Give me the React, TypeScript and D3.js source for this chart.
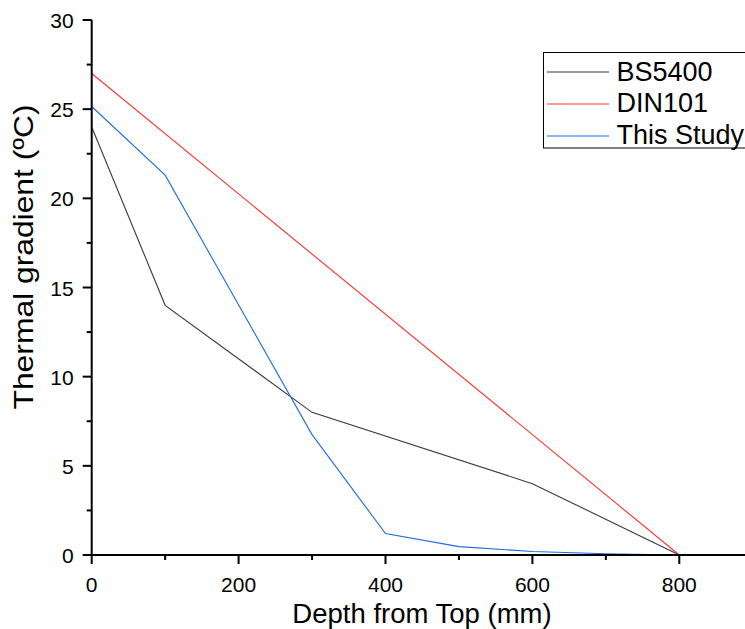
import React from "react";
import * as d3 from "d3";

const bsX = [0, 100, 300, 600, 800];
const bsY = [24, 14, 8, 4, 0];
const dinX = [0, 800];
const dinY = [27, 0];
const studyX = [0, 100, 300, 400, 500, 600, 700, 800];
const studyY = [25.15, 21.3, 6.75, 1.2, 0.47, 0.2, 0.07, 0];
const seriesNames = ["BS5400", "DIN101", "This Study"];
const seriesColors = ["#3a3a3a", "#ff3030", "#1f6ae6"];
const xTicks = [0, 200, 400, 600, 800];
const yTicks = [0, 5, 10, 15, 20, 25, 30];

const W = 745;
const H = 629;
const FONT = "Liberation Sans, Arial, sans-serif";

export default function App() {
  const x = d3.scaleLinear().domain([0, 800]).range([91.7, 679.3]);
  const y = d3.scaleLinear().domain([0, 30]).range([555, 20]);
  const xEnd = 760;

  const series = [
    { xs: bsX, ys: bsY },
    { xs: dinX, ys: dinY },
    { xs: studyX, ys: studyY },
  ];
  const line = d3
    .line<[number, number]>()
    .x((d) => x(d[0]))
    .y((d) => y(d[1]));

  const xMinor = d3.range(100, 900, 200);
  const yMinor = d3.range(2.5, 30, 5);

  return (
    <svg
      width={W}
      height={H}
      style={{ position: "fixed", left: 0, top: 0, background: "#fff" }}
      fontFamily={FONT}
    >
      {series.map((s, i) => (
        <path
          key={i}
          d={line(s.xs.map((v, j) => [v, s.ys[j]] as [number, number])) || ""}
          fill="none"
          stroke={seriesColors[i]}
          strokeWidth={1.1}
        />
      ))}
      {/* axes */}
      <line x1={x(0)} x2={x(0)} y1={y(30)} y2={y(0) + 1} stroke="#000" strokeWidth={2} />
      <line x1={x(0) - 1} x2={xEnd} y1={y(0)} y2={y(0)} stroke="#000" strokeWidth={2} />
      {yTicks.map((t) => (
        <g key={"yt" + t}>
          <line x1={x(0) - 9} x2={x(0)} y1={y(t)} y2={y(t)} stroke="#000" strokeWidth={2} />
          <text x={x(0) - 18} y={y(t) + 8} textAnchor="end" fontSize={21}>
            {t}
          </text>
        </g>
      ))}
      {yMinor.map((t) => (
        <line key={"ym" + t} x1={x(0) - 5} x2={x(0)} y1={y(t)} y2={y(t)} stroke="#000" strokeWidth={2} />
      ))}
      {xTicks.map((t) => (
        <g key={"xt" + t}>
          <line x1={x(t)} x2={x(t)} y1={y(0)} y2={y(0) + 9} stroke="#000" strokeWidth={2} />
          <text x={x(t)} y={591.5} textAnchor="middle" fontSize={21}>
            {t}
          </text>
        </g>
      ))}
      {xMinor.map((t) => (
        <line key={"xm" + t} x1={x(t)} x2={x(t)} y1={y(0)} y2={y(0) + 5} stroke="#000" strokeWidth={2} />
      ))}
      <text x={422} y={623} textAnchor="middle" fontSize={27.5}>
        Depth from Top (mm)
      </text>
      <text
        transform={`translate(33, 257) rotate(-90)`}
        textAnchor="middle"
        fontSize={28.5}
        textLength={305}
        lengthAdjust="spacingAndGlyphs"
      >
        Thermal gradient (ºC)
      </text>
      {/* legend */}
      <rect x={543.5} y={52.5} width={220} height={95.5} fill="#fff" stroke="#000" strokeWidth={1} />
      {seriesNames.map((n, i) => (
        <g key={n}>
          <line x1={547} x2={609} y1={72 + i * 32} y2={72 + i * 32} stroke={seriesColors[i]} strokeWidth={1.1} />
          <text x={616.5} y={80.5 + i * 31.5} fontSize={27}>
            {n}
          </text>
        </g>
      ))}
    </svg>
  );
}
